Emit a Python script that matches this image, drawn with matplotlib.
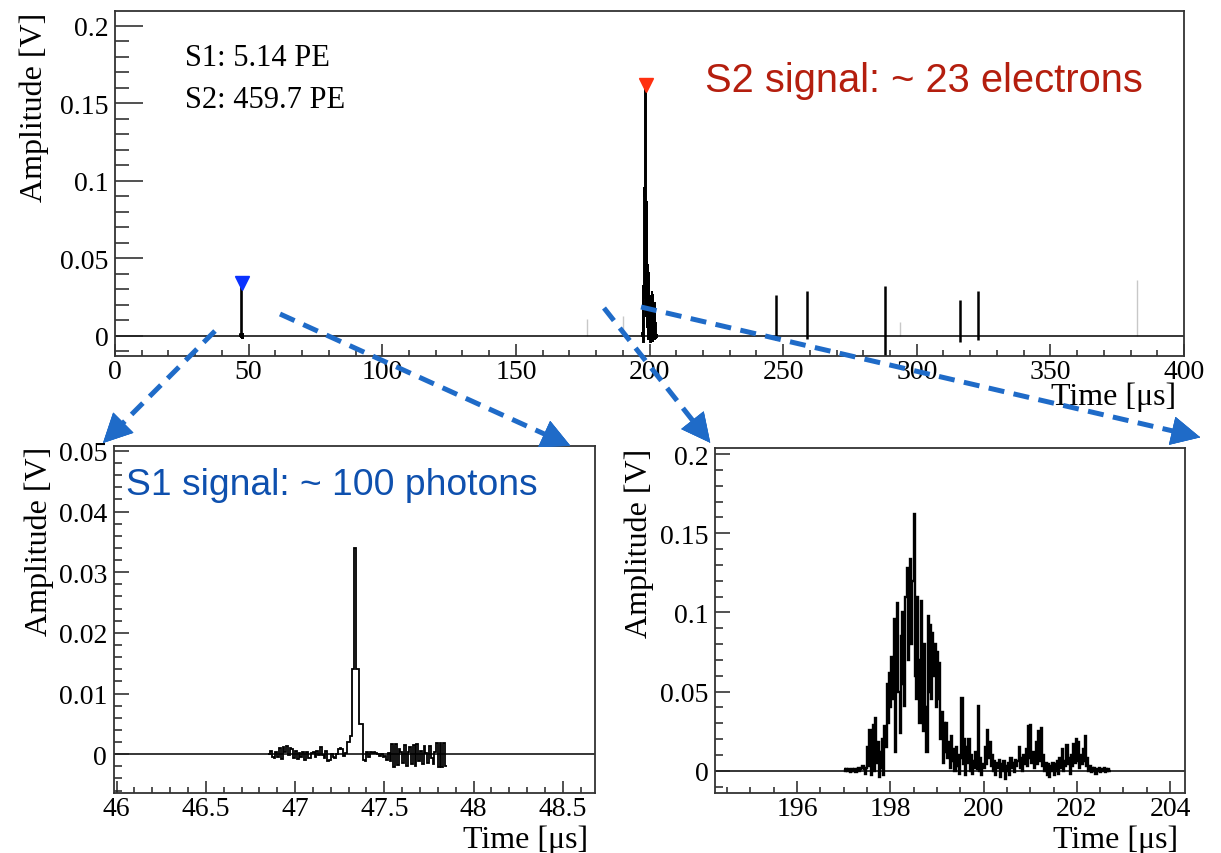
import numpy as np
import matplotlib
matplotlib.use("Agg")
import matplotlib.pyplot as plt
from matplotlib import ticker
from matplotlib.lines import Line2D

plt.rcParams['font.family'] = ['Liberation Serif', 'DejaVu Serif']

# S1 pulse, 10 ns bins starting at 46.85 us, amplitude in mV
s1_t0 = 46.85
s1_dt = 0.01
s1_mv = [0.0, 0.6, -0.5, -0.6, 0.3, -0.4, 1.0, -0.8, 1.2, 0.4,
         1.3, -0.2, 1.0, 0.9, -0.6, 0.6, -0.8, 0.2, -0.5, 0.4,
         -0.9, 0.3, -0.6, -0.7, 0.2, 0.4, -0.5, 0.6, -0.2, 1.2,
         -0.1, -0.6, 0.5, -1.2, -0.9, 0.1, -0.4, -0.6, 0.1, 0.9,
         1.1, 0.9, -0.3, 0.2, 2.0,
         2.0, 3.0, 14.0, 34.0, 14.0, 14.0, 5.0, 5.0, -1.0, -1.2,
         0.4, -0.5, 0.3, 0.2, 0.4, 0.2, 0.0, -0.3, 0.0, -0.5,
         -0.3, -0.9, 0.2, -1.2, 1.6,
         -2.1, 1.6, -1.8, 0.8, 0.3, -1.5, 1.5, -2.0, 0.4, 1.2,
         -1.6, 1.5, -2.0, 1.6, -1.2, 0.6, -1.7, 1.4, 0.2, -1.5,
         1.4, -0.6, -1.6, 0.4, 1.8, -2.1, 1.9, -2.1, 1.9, -2.0]

# S2 pulse, 25 ns bins starting at 197.0 us, amplitude in mV
s2_t0 = 197.0
s2_dt = 0.025
s2_mv = [1, 0, 1, 0, 1, -1, 0, 1, 0, 1, -1, 1, 2, 0, 1, 2, 3, 1, -2, 2,
         15, 3, 26, -3, 10, 29, 0, 33, 5, 18, -4, 12, 2, 20, -3, 28, 15, 55, 30, 62,
         40, 72, 45, 96, 12, 90, 106, 50, 24, 85, 100, 55, 41, 110, 128, 70, 85, 134, 80, 120,
         162, 60, 45, 110, 70, 30, 107, 60, 25, 80, 40, 12, 98, 50, 92, 45, 87, 60, 80, 40,
         75, 45, 68, 20, 37, 5, 30, 12, 30, 8, 18, 2, 22, 6, 14, 0, 15, 3, 10, -2,
         8, 46, 4, 20, -3, 15, 5, 20, 0, 10, -2, 6, 2, 12, 1, 41, 0, 8, -3, 4,
         2, 15, 4, 26, 8, 18, 3, 10, 0, 6, -3, 5, 2, 7, -4, 4, 0, 6, -5, 3,
         0, 5, -3, 8, 2, 5, -1, 7, 3, 6, 15, 2, 8, 0, 10, 4, 14, 3, 28, 8,
         29, 5, 12, 2, 8, 18, 4, 25, 6, 27, 3, 10, 0, 5, -3, 4, -4, 3, 0, 5,
         -3, 4, 0, 6, -2, 8, 2, 14, 0, 6, 3, 16, 4, 8, -2, 10, 3, 17, 5, 20,
         6, 18, 2, 10, 4, 14, 6, 22, 3, 8, 0, 3, -1, 2, 0, 2, -2, 1, 0, 2,
         -1, 1, 0, 2, -1, 1, 0, 1, 0]

# single-electron pulses later in the trace (us, V)
se_times = [247.3, 259.0, 288.2, 316.3, 323.0]
se_peaks = [0.026, 0.029, 0.032, 0.023, 0.029]
se_dips = [-0.003, -0.002, -0.013, -0.004, -0.003]

# faint grey traces
faint_times = [176.5, 190.0, 293.8, 382.5]
faint_peaks = [0.011, 0.013, 0.009, 0.036]

s1_amp = np.array(s1_mv) / 1000.0
s2_amp = np.array(s2_mv) / 1000.0
s1_edges = s1_t0 + s1_dt * np.arange(len(s1_amp) + 1)
s2_edges = s2_t0 + s2_dt * np.arange(len(s2_amp) + 1)
s1_peak_t = s1_edges[np.argmax(s1_amp)] + s1_dt / 2
s2_peak_t = s2_edges[np.argmax(s2_amp)] + s2_dt / 2

W, H = 1221, 854
fig = plt.figure(figsize=(W / 100, H / 100), dpi=100)


def px_rect(l, t, r, b):
    return [l / W, 1 - b / H, (r - l) / W, (b - t) / H]


ax_top = fig.add_axes(px_rect(115, 12.3, 1184, 356.7))
ax_s1 = fig.add_axes(px_rect(113.5, 447, 595, 794))
ax_s2 = fig.add_axes(px_rect(715, 449, 1185, 794))

fmt = ticker.FuncFormatter(lambda v, p: f'{v:g}')


def root_style(ax, xmaj, xmin, ymaj, ymin, ylen, xlen):
    ax.xaxis.set_major_locator(ticker.MultipleLocator(xmaj))
    ax.xaxis.set_minor_locator(ticker.MultipleLocator(xmin))
    ax.yaxis.set_major_locator(ticker.MultipleLocator(ymaj))
    ax.yaxis.set_minor_locator(ticker.MultipleLocator(ymin))
    ax.xaxis.set_major_formatter(fmt)
    ax.yaxis.set_major_formatter(fmt)
    ax.tick_params(which='both', direction='in', top=False, right=False,
                   labelsize=20, width=1.1, color='#222222')
    ax.tick_params(axis='y', which='major', length=ylen, pad=4.5)
    ax.tick_params(axis='y', which='minor', length=ylen / 2)
    ax.tick_params(axis='x', which='major', length=xlen, pad=2.5)
    ax.tick_params(axis='x', which='minor', length=xlen / 2)
    for s in ax.spines.values():
        s.set_linewidth(1.3)
        s.set_color('#333333')
    ax.axhline(0, color='black', lw=1.1, zorder=1)


# full trace
ax = ax_top
for t, p in zip(faint_times, faint_peaks):
    ax.vlines(t, 0, p, color='#c8c8c8', lw=1.0, zorder=1)
ax.stairs(s1_amp, s1_edges, baseline=None, color='black', lw=1.2, zorder=2)
ax.stairs(s2_amp, s2_edges, baseline=None, color='black', lw=1.4, zorder=2)
ax.vlines(se_times, se_dips, se_peaks, color='black', lw=1.8, zorder=2)
ax.plot(s1_peak_t, s1_amp.max(), marker='v', color='#0a32ff', ms=10, zorder=3)
ax.plot(s2_peak_t, s2_amp.max(), marker='v', color='#ff3010', ms=10, zorder=3)
ax.set_xlim(0, 400)
ax.set_ylim(-0.0129, 0.2093)
root_style(ax, 50, 10, 0.05, 0.01, 20, 9)
ax.set_ylabel('Amplitude [V]', loc='top', fontsize=23)
ax.yaxis.set_label_coords(-0.062, 1.0)
ax.set_xlabel('Time [μs]', loc='right', fontsize=23)
ax.xaxis.set_label_coords(0.993, -0.075)

# S1 zoom
ax = ax_s1
ax.stairs(s1_amp, s1_edges, baseline=None, color='black', lw=1.3, zorder=2)
ax.set_xlim(45.983, 48.68)
ax.set_ylim(-0.0064, 0.0508)
root_style(ax, 0.5, 0.1, 0.01, 0.002, 10.8, 8.6)
ax.set_ylabel('Amplitude [V]', loc='top', fontsize=23)
ax.yaxis.set_label_coords(-0.124, 1.0)
ax.set_xlabel('Time [μs]', loc='right', fontsize=23)
ax.xaxis.set_label_coords(0.985, -0.09)

# S2 zoom
ax = ax_s2
ax.stairs(s2_amp, s2_edges, baseline=None, color='black', lw=1.7, zorder=2)
ax.set_xlim(194.24, 204.32)
ax.set_ylim(-0.0141, 0.2038)
root_style(ax, 2, 0.5, 0.05, 0.01, 10.8, 8.6)
ax.set_ylabel('Amplitude [V]', loc='top', fontsize=23)
ax.yaxis.set_label_coords(-0.13, 1.0)
ax.set_xlabel('Time [μs]', loc='right', fontsize=23)
ax.xaxis.set_label_coords(0.985, -0.09)

# annotations
fig.text(185 / W, 1 - 58 / H, 'S1: 5.14 PE', fontsize=22, va='center')
fig.text(185 / W, 1 - 100 / H, 'S2: 459.7 PE', fontsize=22, va='center')
fig.text(705 / W, 1 - 92 / H, 'S2 signal: ~ 23 electrons', fontsize=28.7,
         va='baseline', color='#b41e0e', family=['Liberation Sans', 'DejaVu Sans'])
fig.text(126 / W, 1 - 495 / H, 'S1 signal: ~ 100 photons', fontsize=26.8,
         va='baseline', color='#0e50ae', family=['Liberation Sans', 'DejaVu Sans'])

# dashed zoom arrows (pixel coords from top-left)
arrow_color = '#1f6bc8'
arrows = [((215, 332), (101, 446)),
          ((280, 315), (573, 448)),
          ((604, 309), (712, 446)),
          ((641, 308), (1203, 439))]
for (x0, y0), (x1, y1) in arrows:
    d = np.hypot(x1 - x0, y1 - y0)
    ux, uy = (x1 - x0) / d, (y1 - y0) / d
    xe, ye = x1 - ux * 18, y1 - uy * 18
    fig.add_artist(Line2D([x0 / W, xe / W], [1 - y0 / H, 1 - ye / H],
                          transform=fig.transFigure, color=arrow_color,
                          lw=3.6, dashes=(3.2, 1.9), solid_capstyle='butt'))
    fig.add_artist(plt.annotate('', xy=(x1, H - y1), xytext=(x1 - ux * 24, H - (y1 - uy * 24)),
                                xycoords='figure pixels', textcoords='figure pixels',
                                arrowprops=dict(arrowstyle='-|>,head_length=1.0,head_width=0.5',
                                                mutation_scale=20, color=arrow_color, lw=0.5)))

fig.savefig('out.png', dpi=100)
